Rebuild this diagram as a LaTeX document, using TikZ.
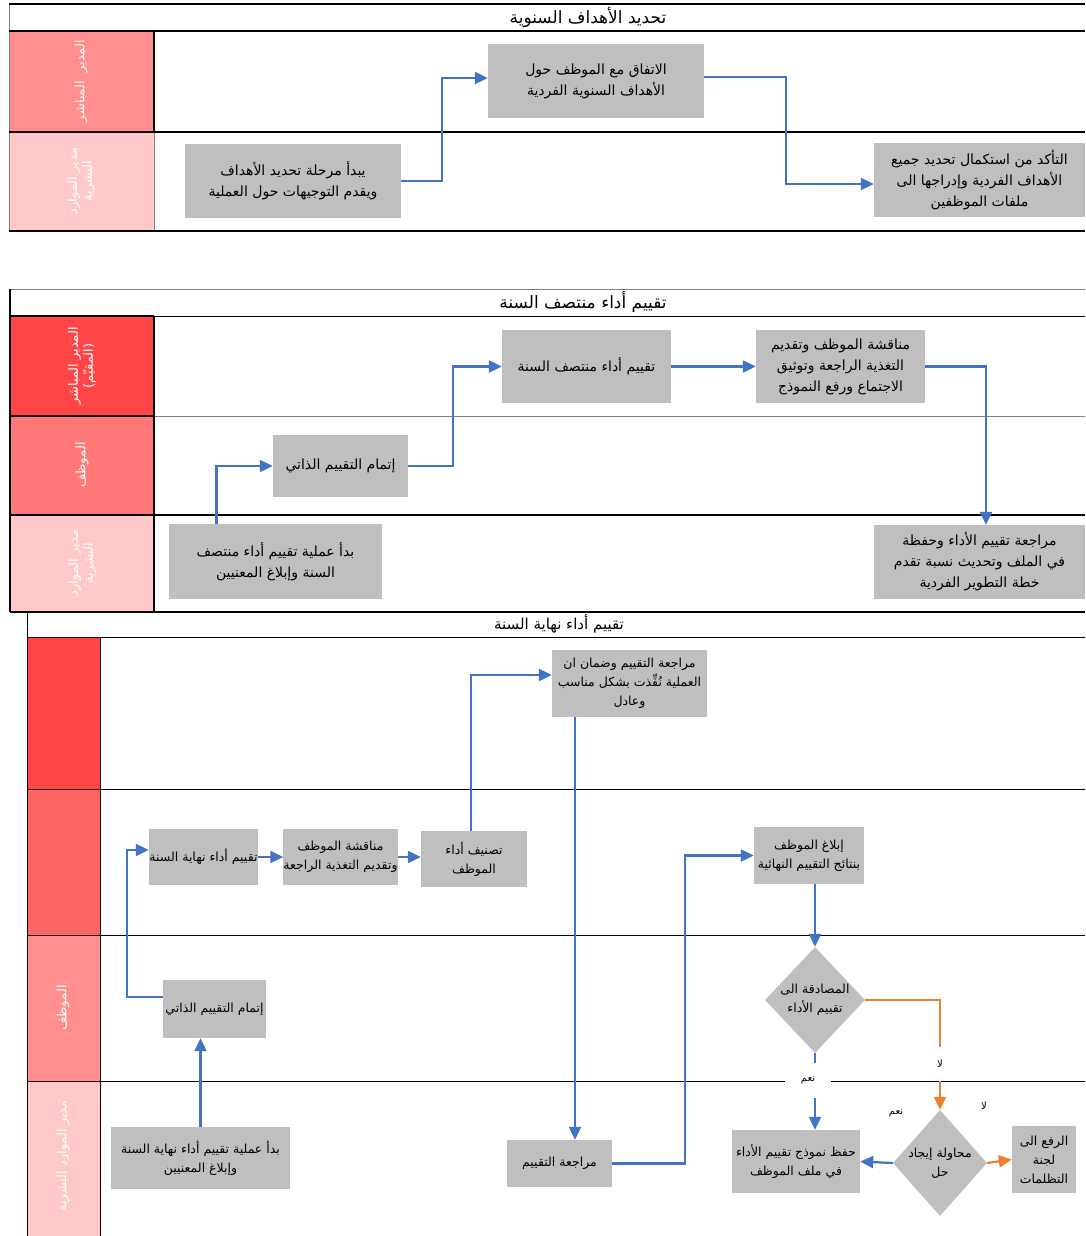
\documentclass[tikz,border=0pt]{standalone}
\usepackage{fontspec}
\usepackage{tikz}
\usetikzlibrary{arrows.meta}
\usetikzlibrary{shapes.geometric}
\TeXXeTstate=1
\newfontfamily\arabicfont[Script=Arabic]{DejaVu Sans}
\newcommand{\arline}[1]{\beginR #1\endR}
\definecolor{boxgray}{HTML}{BFBFBF}
\definecolor{flowblue}{HTML}{4472C4}
\definecolor{floworange}{HTML}{ED7D31}
\definecolor{laneA}{HTML}{FF4545}
\definecolor{laneB}{HTML}{FF6565}
\definecolor{laneC}{HTML}{FF7878}
\definecolor{laneD}{HTML}{FF8F8F}
\definecolor{laneE}{HTML}{FFC9C9}
\tikzstyle{task}=[fill=boxgray,inner sep=2pt,align=center,font=\arabicfont\fontsize{14}{21}\selectfont]
\tikzstyle{smalltask}=[task,font=\arabicfont\fontsize{12.5}{19}\selectfont]
\tikzstyle{decision}=[diamond,fill=boxgray,inner sep=0pt]
\tikzstyle{flow}=[draw=flowblue,line width=2.2pt,-{Triangle[length=13pt,width=12pt]}]
\tikzstyle{flowno}=[flow,draw=floworange]
\tikzstyle{lanename}=[rotate=90,text=white,align=center,font=\arabicfont\fontsize{13}{15}\selectfont]
\tikzstyle{sectitle}=[font=\arabicfont\fontsize{17}{19}\selectfont]
\tikzstyle{answer}=[font=\arabicfont\fontsize{10}{11}\selectfont,inner sep=1pt]

\begin{document}
\begin{tikzpicture}[x=1pt,y=-1pt]
      \useasboundingbox (0,0) rectangle (1085,1236);

      \foreach \ya/\yb/\c in {31/132/laneD,132/231/laneE}{
        \fill[\c] (9,\ya) rectangle (154,\yb);
      }
      \foreach \ya/\yb/\c in {316/416/laneA,416/515/laneC,515/612/laneE}{
        \fill[\c] (10,\ya) rectangle (154,\yb);
      }
      \foreach \ya/\yb/\c in {637/789/laneA,789/935/laneB,935/1081/laneD,1081/1236/laneE}{
        \fill[\c] (27,\ya) rectangle (100,\yb);
      }

      \draw[gray,line width=0.8pt] (9,4) -- (9,231) (154,132) -- (154,231);
      \draw[line width=1.8pt] (9,4) -- (1085,4) (9,31) -- (1085,31) (9,132) -- (1085,132)
        (9,231) -- (1085,231) (154,31) -- (154,132);

      \draw[gray,line width=0.8pt] (10,289) -- (1085,289) (154,416) -- (1085,416);
      \draw[line width=1pt] (10,316) -- (1085,316);
      \draw[line width=1.8pt] (10,289) -- (10,612) (154,316) -- (154,612) (10,416) -- (154,416)
        (10,515) -- (1085,515) (10,612) -- (1085,612) (10,316) -- (154,316);

      \draw[line width=0.8pt] (27,612) -- (27,1236) (100,637) -- (100,1236);
      \foreach \y in {637,789,935,1081}{
        \draw[line width=0.8pt] (27,\y) -- (1085,\y);
      }

      \node[sectitle] (t1) at (588,17) {\arline{تحديد الأهداف السنوية}};
      \node[sectitle] (t2) at (583,302) {\arline{تقييم أداء منتصف السنة}};
      \node[sectitle,font=\arabicfont\fontsize{15}{17}\selectfont] (t3) at (559,624) {\arline{تقييم أداء نهاية السنة}};

      \node[lanename] (l11) at (81,81) {\arline{المدير\ \ المباشر}};
      \node[lanename] (l12) at (81,181) {\arline{مدير الموارد}\\\arline{البشرية}};
      \node[lanename] (l21) at (82,366) {\arline{المدير المباشر}\\\arline{(المقيّم)}};
      \node[lanename] (l22) at (82,465) {\arline{الموظف}};
      \node[lanename] (l23) at (82,563) {\arline{مدير الموارد}\\\arline{البشرية}};
      \node[lanename] (l33) at (63,1008) {\arline{الموظف}};
      \node[lanename] (l34) at (63,1156) {\arline{مدير الموارد البشرية}};

      \node[task,minimum width=216,minimum height=74] (g1) at (293,181)
        {\arline{يبدأ مرحلة تحديد الأهداف}\\\arline{ويقدم التوجيهات حول العملية}};
      \node[task,minimum width=216,minimum height=74] (g2) at (596,81)
        {\arline{الاتفاق مع الموظف حول}\\\arline{الأهداف السنوية الفردية}};
      \node[task,minimum width=211,minimum height=74] (g3) at (979.5,180)
        {\arline{التأكد من استكمال تحديد جميع}\\\arline{الأهداف الفردية وإدراجها الى}\\\arline{ملفات الموظفين}};

      \draw[flow] (g1.east) -- ++(41,0) |- ([yshift=3pt]g2.west);
      \draw[flow] ([yshift=4pt]g2.east) -- ++(82,0) |- ([yshift=-4pt]g3.west);

      \node[task,minimum width=213,minimum height=75] (m1) at (275.5,561.5)
        {\arline{بدأ عملية تقييم أداء منتصف}\\\arline{السنة وإبلاغ المعنيين}};
      \node[task,minimum width=135,minimum height=62] (m2) at (340.5,466)
        {\arline{إتمام التقييم الذاتي}};
      \node[task,minimum width=169,minimum height=73] (m3) at (586.5,366.5)
        {\arline{تقييم أداء منتصف السنة}};
      \node[task,minimum width=169,minimum height=73] (m4) at (840.5,366.5)
        {\arline{مناقشة الموظف وتقديم}\\\arline{التغذية الراجعة وتوثيق}\\\arline{الاجتماع ورفع النموذج}};
      \node[task,minimum width=211,minimum height=74] (m5) at (979.5,562)
        {\arline{مراجعة تقييم الأداء وحفظة}\\\arline{في الملف وتحديث نسبة تقدم}\\\arline{خطة التطوير الفردية}};

      \draw[flow] ([xshift=-59pt]m1.north) |- (m2.west);
      \draw[flow] (m2.east) -- ++(45,0) |- (m3.west);
      \draw[flow] (m3.east) -- (m4.west);
      \draw[flow] (m4.east) -| ([xshift=6.5pt]m5.north);

      \node[smalltask,minimum width=179,minimum height=62] (e1) at (200.5,1158)
        {\arline{بدأ عملية تقييم أداء نهاية السنة}\\\arline{وإبلاغ المعنيين}};
      \node[smalltask,minimum width=103,minimum height=58] (e2) at (214.5,1009)
        {\arline{إتمام التقييم الذاتي}};
      \node[smalltask,minimum width=109,minimum height=56,inner sep=0pt] (e3) at (203.5,857)
        {\arline{تقييم أداء نهاية السنة}};
      \node[smalltask,minimum width=113,minimum height=56,inner sep=0pt] (e4) at (340.5,857)
        {\arline{مناقشة الموظف}\\\arline{وتقديم التغذية الراجعة}};
      \node[smalltask,minimum width=106,minimum height=56] (e5) at (474,859)
        {\arline{تصنيف أداء}\\\arline{الموظف}};
      \node[smalltask,minimum width=155,minimum height=67] (e6) at (629.5,683.5)
        {\arline{مراجعة التقييم وضمان ان}\\\arline{العملية نُفِّذت بشكل مناسب}\\\arline{وعادل}};
      \node[smalltask,minimum width=105,minimum height=47] (e7) at (559.5,1163.5)
        {\arline{مراجعة التقييم}};
      \node[smalltask,minimum width=110,minimum height=57] (e8) at (809,855.5)
        {\arline{إبلاغ الموظف}\\\arline{بنتائج التقييم النهائية}};
      \node[smalltask,minimum width=128,minimum height=63] (e9) at (796,1161.5)
        {\arline{حفظ نموذج تقييم الأداء}\\\arline{في ملف الموظف}};
      \node[smalltask,minimum width=64,minimum height=67] (e10) at (1044,1159.5)
        {\arline{الرفع الى}\\\arline{لجنة}\\\arline{التظلمات}};
      \node[decision,minimum width=100,minimum height=106] (d1) at (815,1000) {};
      \node[smalltask,fill=none] (d1t) at (d1) {\arline{المصادقة الى}\\\arline{تقييم الأداء}};
      \node[decision,minimum width=94,minimum height=106] (d2) at (940,1163) {};
      \node[smalltask,fill=none] (d2t) at (d2) {\arline{محاولة إيجاد}\\\arline{حل}};

      \draw[flow] (e1.north) -- (e1.north |- e2.south);
      \draw[flow] ([yshift=12pt]e2.west) -- ++(-36,0) |- ([yshift=7pt]e3.west);
      \draw[flow] (e3.east) -- (e4.west);
      \draw[flow] (e4.east) -- (e4.east -| e5.west);
      \draw[flow] ([xshift=-3pt]e5.north) |- ([yshift=8.5pt]e6.west);
      \draw[flow] ([xshift=-54.5pt]e6.south) -- ([xshift=15.5pt]e7.north);
      \draw[flow] (e7.east) -- ++(73,0) |- (e8.west);
      \draw[flow] ([xshift=6pt]e8.south) -- (d1.north);
      \draw[flow] (d1.south) -- (d1.south |- e9.north);
      \draw[flowno] (d1.east) -| (d2.north);
      \draw[flow] (d2.west) -- (e9.east);
      \draw[flowno] (d2.east) -- (e10.west);

      \node[answer,fill=white,minimum width=46,minimum height=35] (yes1) at (808,1080) {\arline{نعم}};
      \node[answer,fill=white,minimum width=20,minimum height=34] (no1) at (940,1064) {\arline{لا}};
      \node[answer] (yes2) at (896,1113) {\arline{نعم}};
      \node[answer] (no2) at (984,1106) {\arline{لا}};
    \end{tikzpicture}
\end{document}
